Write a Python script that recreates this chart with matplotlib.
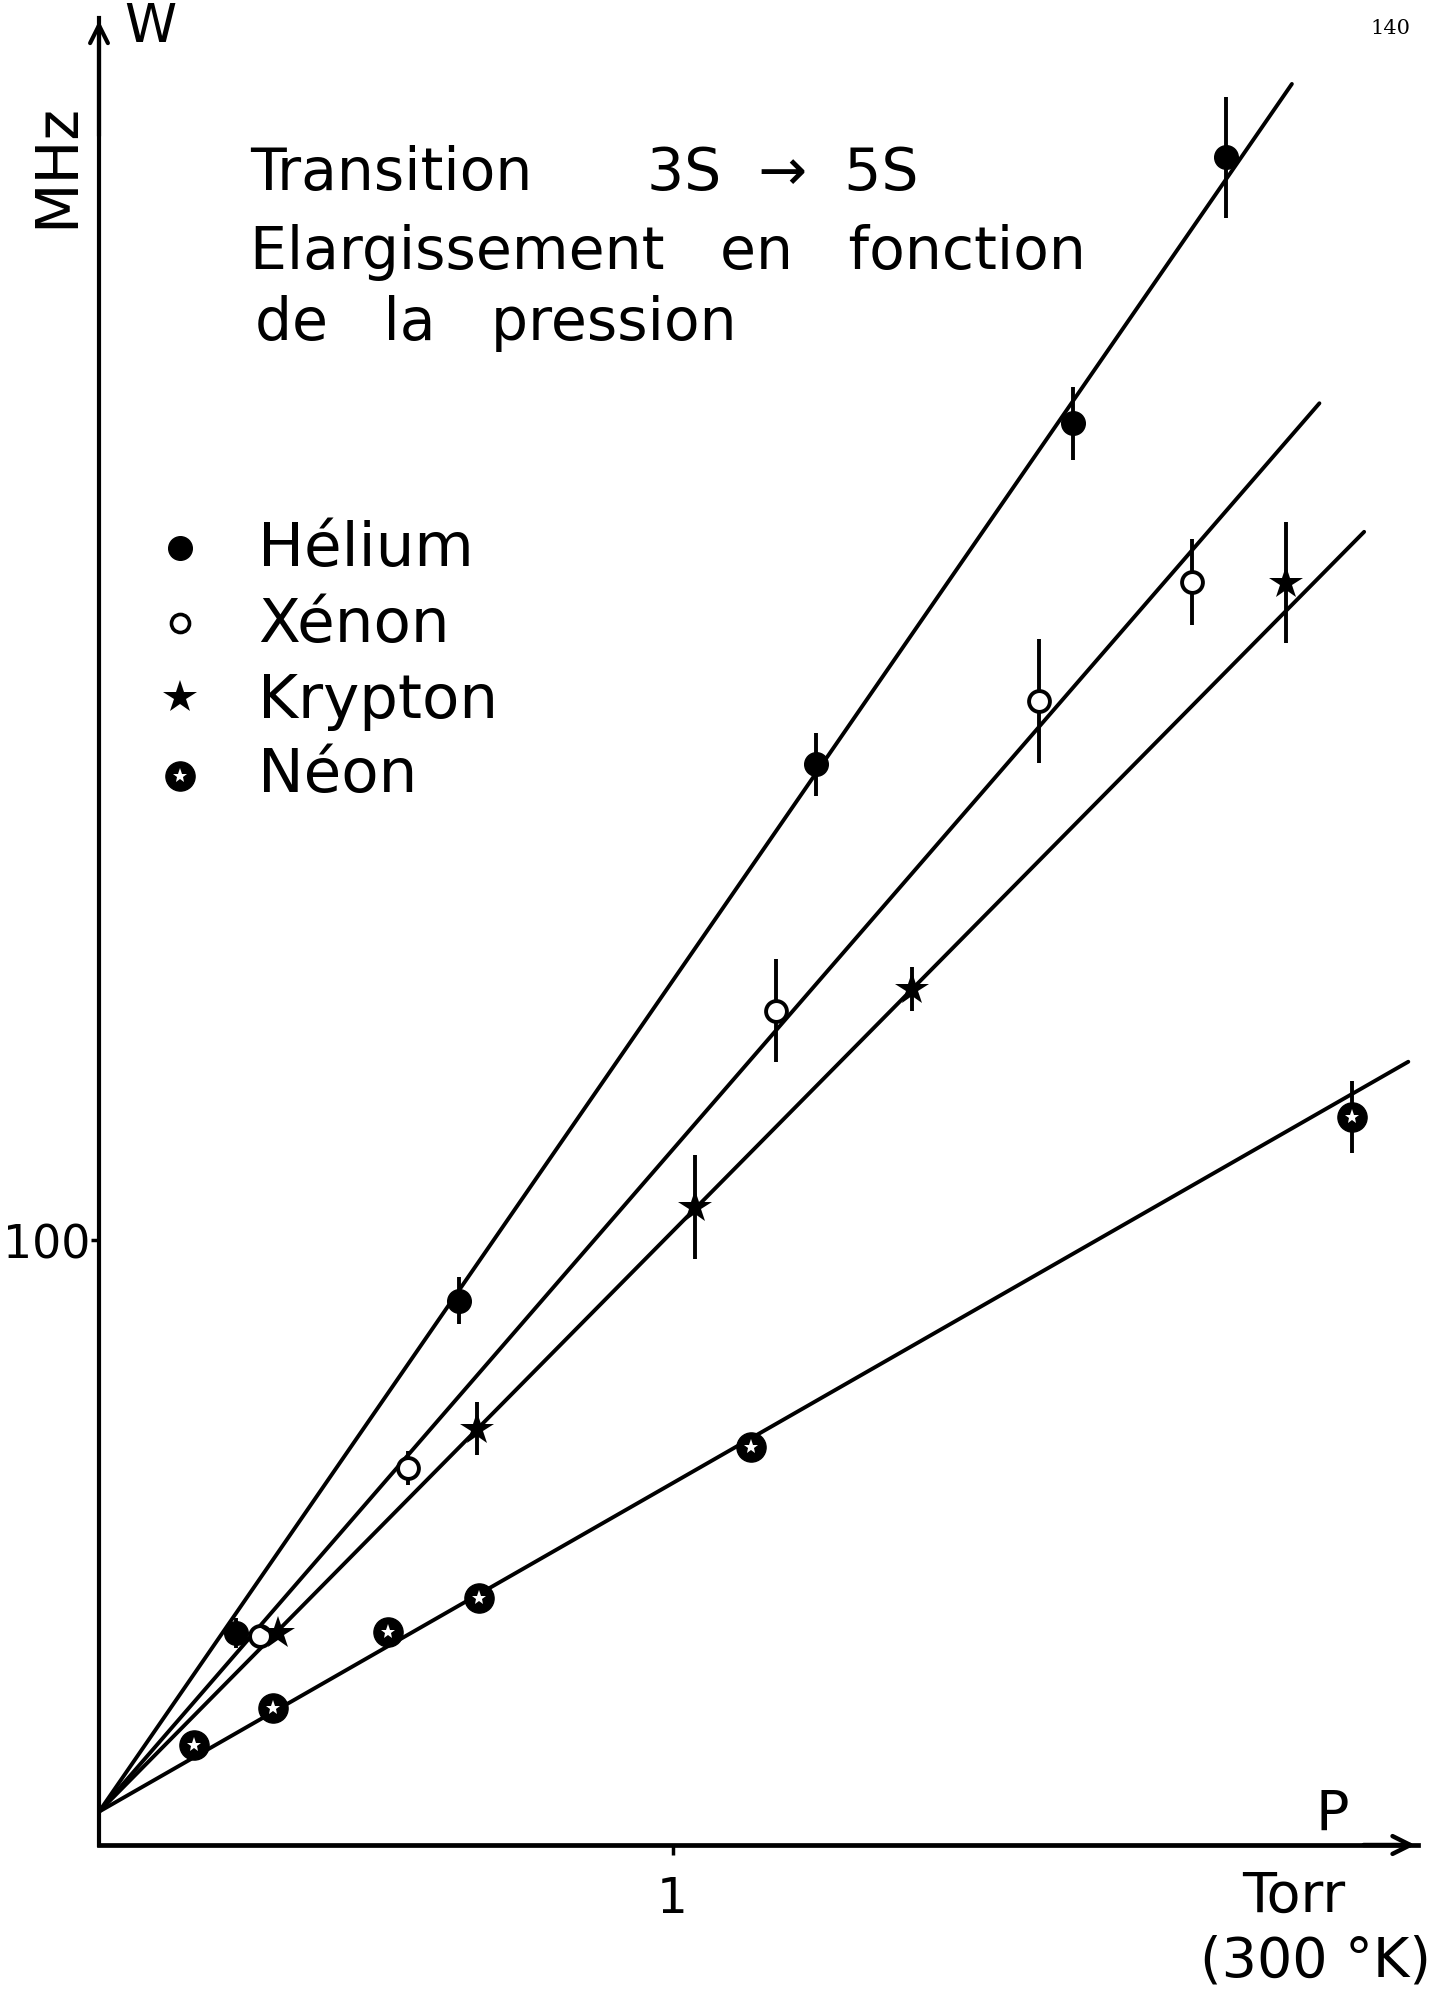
import numpy as np
import matplotlib
matplotlib.use("Agg")
import matplotlib.pyplot as plt

plt.rcParams['font.family'] = ['DejaVu Sans']

# ---- data (P in Torr, W in MHz) ----
he_p = [0.239, 0.628, 1.250, 1.699, 1.965]
he_w = [35.0, 90.0, 178.6, 235.0, 279.0]
he_err = [2.5, 3.9, 5.2, 6.0, 10.0]

xe_p = [0.281, 0.538, 1.181, 1.639, 1.905]
xe_w = [34.6, 62.3, 137.9, 189.1, 208.8]
xe_err = [0.0, 2.8, 8.5, 10.3, 7.1]

kr_p = [0.312, 0.659, 1.040, 1.418, 2.069]
kr_w = [35.0, 68.8, 105.5, 141.5, 208.6]
kr_err = [0.0, 4.4, 8.6, 3.7, 10.0]

ne_p = [0.166, 0.303, 0.504, 0.662, 1.137, 2.184]
ne_w = [16.6, 22.6, 35.2, 40.9, 65.8, 120.3]
ne_err = [0.0, 0.0, 0.0, 0.0, 2.0, 6.0]

# fitted straight lines: W = intercept + slope * P, drawn from P=0 to P_end
fit_intercept = 5.5
fit_slopes = {"He": 137.3, "Xe": 109.4, "Kr": 95.9, "Ne": 54.3}
fit_pend = {"He": 2.080, "Xe": 2.128, "Kr": 2.206, "Ne": 2.283}

x_ticks = [1]
y_ticks = [100]

FW, FH = 1444, 1990
fig = plt.figure(figsize=(FW / 100, FH / 100), dpi=100)

def fx(x):
    return x / FW

def fy(y):
    return 1 - y / FH

x0px, y0px = 99, 1846
px_per_torr, px_per_mhz = 573.5, 6.05
xmax, ymax = 2.30, 302
ax = fig.add_axes([fx(x0px), fy(y0px), xmax * px_per_torr / FW, ymax * px_per_mhz / FH])
ax.set_xlim(0, xmax)
ax.set_ylim(0, ymax)
for s in ["top", "right"]:
    ax.spines[s].set_visible(False)
ax.spines["left"].set_linewidth(3.0)
ax.spines["bottom"].set_linewidth(3.4)
ax.set_xticks(x_ticks)
ax.set_xticklabels([str(t) for t in x_ticks])
ax.set_yticks(y_ticks)
ax.set_yticklabels([str(t) for t in y_ticks])
ax.tick_params(axis="x", length=7, width=2.5, pad=14, labelsize=35)
ax.tick_params(axis="y", length=6, width=2.5, pad=0, labelsize=33)
ax.patch.set_visible(False)

# arrowheads
ax.annotate("", xy=(0, ymax), xytext=(0, ymax - 20),
            arrowprops=dict(arrowstyle="->", lw=3.0, mutation_scale=32, color="black"),
            annotation_clip=False)
ax.annotate("", xy=(xmax, 0), xytext=(xmax - 0.1, 0),
            arrowprops=dict(arrowstyle="->", lw=3.2, mutation_scale=32, color="black"),
            annotation_clip=False)

LW = 2.8
# fit lines
for key in ["He", "Xe", "Kr", "Ne"]:
    p = np.array([0.0, fit_pend[key]])
    ax.plot(p, fit_intercept + fit_slopes[key] * p, color="black", lw=LW,
            solid_capstyle="round", clip_on=False, zorder=2)

def ebars(p, w, e):
    for pi, wi, ei in zip(p, w, e):
        if ei > 0:
            ax.errorbar([pi], [wi], yerr=[ei], fmt="none", ecolor="black",
                        elinewidth=2.8, capsize=0, zorder=3, clip_on=False)

ebars(he_p, he_w, he_err)
ebars(xe_p, xe_w, xe_err)
ebars(kr_p, kr_w, kr_err)
ebars(ne_p, ne_w, ne_err)

ax.plot(he_p, he_w, "o", ms=17, color="black", zorder=4, clip_on=False)
ax.plot(xe_p, xe_w, "o", ms=15, mfc="white", mec="black", mew=2.8, zorder=4, clip_on=False)
ax.plot(kr_p, kr_w, "*", ms=25, color="black", mew=0, zorder=4, clip_on=False)
ax.plot(ne_p, ne_w, "o", ms=21, color="black", zorder=4, clip_on=False)
ax.plot(ne_p, ne_w, "*", ms=11, color="white", mew=0, zorder=5, clip_on=False)

# title block
TS = 42
fig.text(fx(250), fy(190), "Transition", fontsize=TS, va="baseline", ha="left")
fig.text(fx(647), fy(190), "3S  \u2192  5S", fontsize=TS, va="baseline", ha="left")
fig.text(fx(250), fy(269), "Elargissement   en   fonction", fontsize=TS, va="baseline", ha="left")
fig.text(fx(255), fy(340), "de   la   pression", fontsize=TS, va="baseline", ha="left")

# legend (manual)
leg_y = [549, 624, 698, 777]
leg_txt_y = [566, 642, 718, 792]
names = ["H\u00e9lium", "X\u00e9non", "Krypton", "N\u00e9on"]
mx = fx(180)
fig.lines.append(plt.Line2D([mx], [fy(leg_y[0])], marker="o", ms=17, color="black",
                            transform=fig.transFigure, figure=fig))
fig.lines.append(plt.Line2D([mx], [fy(leg_y[1])], marker="o", ms=13, mfc="white", mec="black",
                            mew=2.6, transform=fig.transFigure, figure=fig))
fig.lines.append(plt.Line2D([mx], [fy(leg_y[2])], marker="*", ms=25, color="black", mew=0,
                            transform=fig.transFigure, figure=fig))
fig.lines.append(plt.Line2D([mx], [fy(leg_y[3])], marker="o", ms=21, color="black",
                            transform=fig.transFigure, figure=fig))
fig.lines.append(plt.Line2D([mx], [fy(leg_y[3])], marker="*", ms=11, color="white", mew=0,
                            transform=fig.transFigure, figure=fig))
for n, yy in zip(names, leg_txt_y):
    fig.text(fx(258), fy(yy), n, fontsize=44, va="baseline", ha="left")

# axis labels
fig.text(fx(150), fy(27), "W", fontsize=38, ha="center", va="center")
fig.text(fx(57), fy(165), "MHz", fontsize=42, ha="center", va="center", rotation=90)
fig.text(fx(1332), fy(1815), "P", fontsize=40, ha="center", va="center")
fig.text(fx(1294), fy(1897), "Torr", fontsize=40, ha="center", va="center")
fig.text(fx(1315), fy(1962), "(300 \u00b0K)", fontsize=40, ha="center", va="center")
fig.text(fx(1390), fy(28), "140", fontsize=15, ha="center", va="center", family="DejaVu Serif")

fig.savefig("out.png", dpi=100, facecolor="white")
